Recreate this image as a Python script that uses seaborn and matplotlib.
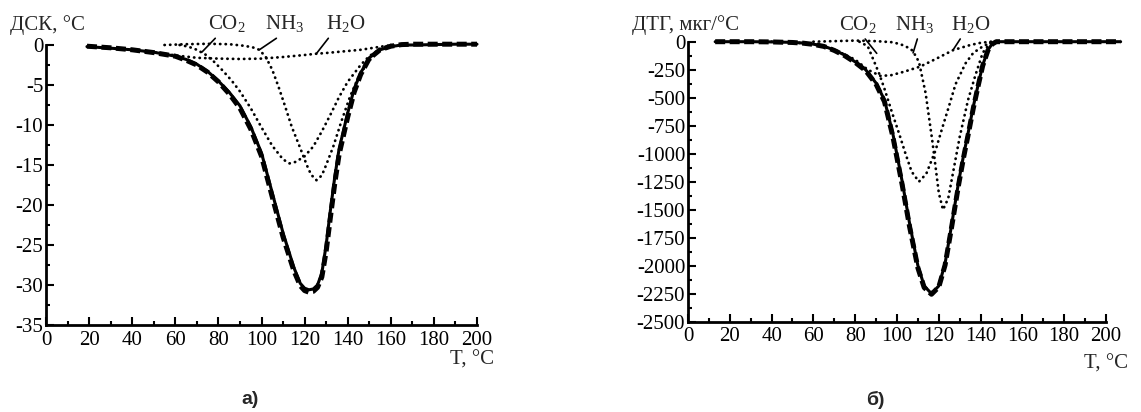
import numpy as np
import pandas as pd
import matplotlib.pyplot as plt
import seaborn as sns
from matplotlib.ticker import MultipleLocator

sns.set_theme(style="ticks")
plt.rcParams['font.family'] = ['Liberation Serif', 'DejaVu Serif']
plt.rcParams['mathtext.fontset'] = 'custom'
plt.rcParams['mathtext.rm'] = 'Liberation Serif'
plt.rcParams['axes.unicode_minus'] = False

# ---- panel a) DSC ----
t_dsc = [19, 30, 40, 50, 60, 65, 70, 75, 80, 85, 90, 95, 100, 105, 110, 115, 118, 120, 122,
         124, 126, 128, 130, 132, 134, 136, 140, 143, 146, 150, 155, 160, 165, 170, 180, 190, 200]
dsc_exp = [-0.2, -0.4, -0.6, -0.9, -1.4, -1.8, -2.4, -3.3, -4.5, -5.9, -7.6, -10.2, -13.5, -18.5,
           -23.5, -27.8, -29.8, -30.4, -30.6, -30.5, -30.0, -28.5, -25.0, -20.6, -16.5, -13.0,
           -8.5, -5.5, -3.5, -1.6, -0.6, -0.2, 0, 0, 0.05, 0.1, 0.1]
dsc_fit = [-0.15, -0.35, -0.6, -0.95, -1.4, -1.9, -2.5, -3.4, -4.6, -6.1, -7.9, -10.5, -13.9, -19.0,
           -24.0, -28.2, -30.1, -30.7, -30.9, -30.8, -30.3, -29.0, -25.8, -21.5, -17.3, -13.7,
           -9.0, -5.9, -3.7, -1.7, -0.6, -0.15, 0.05, 0.1, 0.1, 0.1, 0.1]

t_dsc_co2 = [62, 66, 70, 74, 78, 82, 86, 90, 95, 100, 105, 110, 113, 116, 120, 124, 128, 132,
             136, 140, 146, 150, 155, 160]
dsc_co2 = [0, -0.2, -0.6, -1.2, -2.1, -3.2, -4.4, -5.8, -7.9, -10.3, -12.6, -14.3, -14.8, -14.6,
           -13.9, -12.7, -10.8, -8.7, -6.5, -4.6, -2.5, -1.4, -0.5, 0]

t_dsc_nh3 = [55, 65, 75, 85, 92, 96, 99, 102, 105, 108, 111, 114, 117.7, 121, 123, 125.5, 128,
             130, 133.3, 137, 141, 145, 149, 153, 157, 160]
dsc_nh3 = [0, 0.1, 0.15, 0.1, -0.1, -0.3, -0.6, -1.5, -3.1, -5.3, -7.7, -10.2, -12.7, -15.0,
           -16.2, -16.9, -16.3, -15.0, -12.7, -9.6, -6.5, -4.0, -2.3, -1.0, -0.3, 0]

t_dsc_h2o = [20, 30, 40, 50, 60, 70, 80, 90, 100, 110, 120, 125, 130, 140, 146, 152, 158, 165]
dsc_h2o = [-0.2, -0.4, -0.6, -0.9, -1.3, -1.6, -1.7, -1.75, -1.7, -1.5, -1.25, -1.1, -1.0,
           -0.75, -0.6, -0.35, -0.1, 0]

# ---- panel б) DTG ----
t_dtg = [13, 30, 40, 50, 55, 60, 65, 70, 75, 80, 85, 90, 94, 98, 102.5, 106, 110, 113, 116.5,
         120, 123, 126, 129.5, 132, 134, 136.5, 139, 141, 143.5, 145.5, 147.5, 160, 180, 200, 207]
dtg_exp = [0, 0, -2, -6, -12, -22, -40, -74, -120, -180, -250, -370, -520, -820, -1250, -1620,
           -2000, -2180, -2250, -2180, -1980, -1650, -1250, -1000, -818, -580, -370, -210, -74,
           -20, 0, 0, 0, 0, 0]
dtg_fit = [0, 0, -2, -7, -13, -24, -42, -78, -125, -185, -258, -380, -535, -845, -1280, -1650,
           -2020, -2195, -2255, -2190, -1995, -1670, -1275, -1020, -835, -595, -380, -215, -78,
           -22, 0, 0, 0, 0, 0]

t_dtg_co2 = [82, 86, 91.4, 94, 97.7, 101, 104, 107, 110.5, 114, 118.5, 121.5, 124.8, 128, 132.8,
             136.5, 140.8, 145.5]
dtg_co2 = [0, -40, -282, -420, -637, -820, -996, -1160, -1250, -1180, -967, -780, -580, -380,
           -193, -100, -45, 0]

t_dtg_nh3 = [60, 70, 80, 90, 98, 102, 105, 107.5, 110.5, 113.7, 117, 120, 122, 124.5, 127, 130,
             134, 137.5, 141, 145]
dtg_nh3 = [0, 5, 10, 5, -5, -25, -50, -80, -180, -460, -900, -1350, -1500, -1400, -1150, -850,
           -520, -300, -100, 0]

t_dtg_h2o = [40, 50, 60, 70, 80, 86, 92, 97, 103, 111, 119, 127, 135, 140, 145]
dtg_h2o = [0, -5, -22, -70, -160, -250, -305, -300, -270, -223, -150, -74, -30, -10, 0]

W, H = 1141, 412
fig = plt.figure(figsize=(W / 100, H / 100), dpi=100)
ax1 = fig.add_axes([46 / W, 1 - 325 / H, 431 / W, 280 / H])
ax2 = fig.add_axes([688 / W, 1 - 321.7 / H, 418 / W, 280 / H])

dot = dict(color='black', linestyle=(0, (0.1, 1.9)), lw=2.0, dash_capstyle='round', clip_on=False)
solid = dict(color='black', lw=2.2, clip_on=False)
thick = dict(color='black', linestyle=(0, (2.0, 0.9)), lw=3.6, clip_on=False)


def draw(ax, t, exp, fit, comps):
    for tc, vc in comps:
        sns.lineplot(x=tc, y=vc, ax=ax, **dot)
    sns.lineplot(x=t, y=exp, ax=ax, **solid)
    sns.lineplot(x=t, y=fit, ax=ax, **thick)


draw(ax1, t_dsc, dsc_exp, dsc_fit,
     [(t_dsc_co2, dsc_co2), (t_dsc_nh3, dsc_nh3), (t_dsc_h2o, dsc_h2o)])
draw(ax2, t_dtg, dtg_exp, dtg_fit,
     [(t_dtg_co2, dtg_co2), (t_dtg_nh3, dtg_nh3), (t_dtg_h2o, dtg_h2o)])

for ax, ylo, ymaj, ymin in [(ax1, -35, 5, 2.5), (ax2, -2500, 250, 125)]:
    ax.set_xlim(0, 200)
    ax.set_ylim(ylo, 0)
    ax.xaxis.set_major_locator(MultipleLocator(20))
    ax.xaxis.set_minor_locator(MultipleLocator(10))
    ax.yaxis.set_major_locator(MultipleLocator(ymaj))
    ax.yaxis.set_minor_locator(MultipleLocator(ymin))
    ax.tick_params(which='both', direction='in', color='black', width=1.5, labelsize=15,
                   labelcolor='black')
    ax.tick_params(which='major', length=6)
    ax.tick_params(which='minor', length=3)
    ax.tick_params(axis='x', which='major', pad=4)
    ax.tick_params(axis='y', which='major', pad=2)
    for s in ['top', 'right']:
        ax.spines[s].set_visible(False)
    for s in ['left', 'bottom']:
        ax.spines[s].set_color('black')
        ax.spines[s].set_linewidth(2)
    ax.set_xlabel('')
    ax.set_ylabel('')
    ax.set_facecolor('white')


def label(ax, text, xy, xytext, rx):
    ax.annotate(text, xy=xy, xytext=xytext, fontsize=15, ha='center', va='center',
                annotation_clip=False,
                arrowprops=dict(arrowstyle='-', color='black', lw=1.2, shrinkA=0, shrinkB=0,
                                relpos=(rx, 0.05)))


# component labels with pointer lines
label(ax1, r'CO$_\mathregular{2}$', (72.3, -0.9), (84, 2.6), 0.3)
label(ax1, r'NH$_\mathregular{3}$', (99, -0.6), (110.8, 2.6), 0.45)
label(ax1, r'H$_\mathregular{2}$O', (125.4, -1.1), (139, 2.6), 0.15)

label(ax2, r'CO$_\mathregular{2}$', (90.3, -104), (81.3, 150), 0.6)
label(ax2, r'NH$_\mathregular{3}$', (107.7, -100), (108.5, 150), 0.6)
label(ax2, r'H$_\mathregular{2}$O', (126.8, -74), (135.4, 150), 0.3)

fig.text(10 / W, 1 - 25 / H, 'ДСК, °C', fontsize=15, ha='left', va='center')
fig.text(632 / W, 1 - 25 / H, 'ДТГ, мкг/°C', fontsize=15, ha='left', va='center')
fig.text(494 / W, 1 - 360 / H, 'T, °C', fontsize=15, ha='right', va='center')
fig.text(1128 / W, 1 - 364 / H, 'T, °C', fontsize=15, ha='right', va='center')

fig.text(250 / W, 1 - 400 / H, 'а)', fontsize=14, fontweight='bold',
         family='Liberation Sans', ha='center', va='center')
fig.text(875 / W, 1 - 400 / H, 'б)', fontsize=14, fontweight='bold',
         family='Liberation Sans', ha='center', va='center')

fig.savefig('out.png', dpi=100, facecolor='white')
